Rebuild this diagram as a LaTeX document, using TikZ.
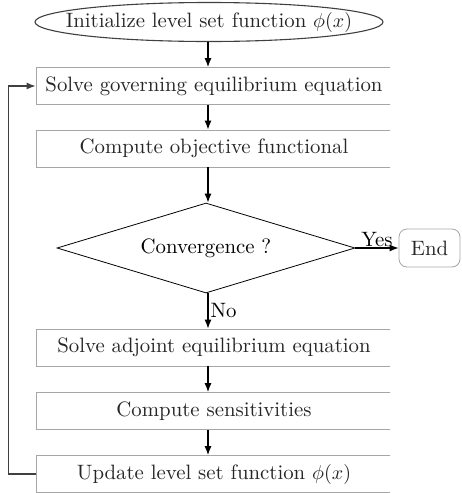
\documentclass[tikz,border=0pt]{standalone}
\usepackage{tikz}
\usetikzlibrary{arrows.meta}
\usetikzlibrary{shapes.geometric}

\begin{document}
\begin{tikzpicture}[x=0.5pt,y=-0.5pt,
		every node/.style={font=\fontsize{10.4}{12}\selectfont, text=black!85},
		stepbox/.style={draw=black!35, fill=white, minimum width=178pt, minimum height=18.5pt, inner sep=0pt},
		flow/.style={-{Latex[length=4.5pt,width=3.5pt]}, line width=0.55pt}]
	\useasboundingbox (0,0) rectangle (461,493);
	\coordinate (axis) at (208,0);
	\node[minimum height=19.5pt, inner sep=0pt] (init) at (209,22) {Initialize level set function $\phi(x)$};
	\draw[black!75, line width=0.55pt] (init.center) ellipse [x radius=87pt, y radius=9.75pt];
	\begin{scope}
		\clip (0,0) rectangle (390,493);
		\node[stepbox] (gov) at (214,86) {Solve governing equilibrium equation};
		\node[stepbox] (obj) at (214,148.5) {Compute objective functional};
		\node[stepbox] (adj) at (214,347.5) {Solve adjoint equilibrium equation};
		\node[stepbox] (sens) at (214,411) {Compute sensitivities};
		\node[stepbox] (upd) at (214,474) {Update level set function $\phi(x)$};
	\end{scope}
	\node[draw, diamond, aspect=3.3, minimum width=149pt, minimum height=45pt, inner sep=0pt, text=black] (conv) at (206,248) {Convergence ?};
	\node[draw=black!35, rounded corners=4pt, minimum width=30.5pt, minimum height=19pt] (end) at (429.5,248) {End};
	\draw[flow] (init.south -| axis) -- (gov.north -| axis);
	\draw[flow] (gov.south -| axis) -- (obj.north -| axis);
	\draw[flow] (obj.south -| axis) -- (conv.north -| axis);
	\draw[flow] (conv.east) -- node[above, inner sep=0.5pt, text=black] {Yes} (end.west);
	\draw[flow] (conv.south -| axis) -- node[right, inner sep=1pt, text=black] {No} (adj.north -| axis);
	\draw[flow] (adj.south -| axis) -- (sens.north -| axis);
	\draw[flow] (sens.south -| axis) -- (upd.north -| axis);
	\draw[flow, draw=black!75] (upd.west) -- ++(-27,0) |- (gov.west);
\end{tikzpicture}
\end{document}
